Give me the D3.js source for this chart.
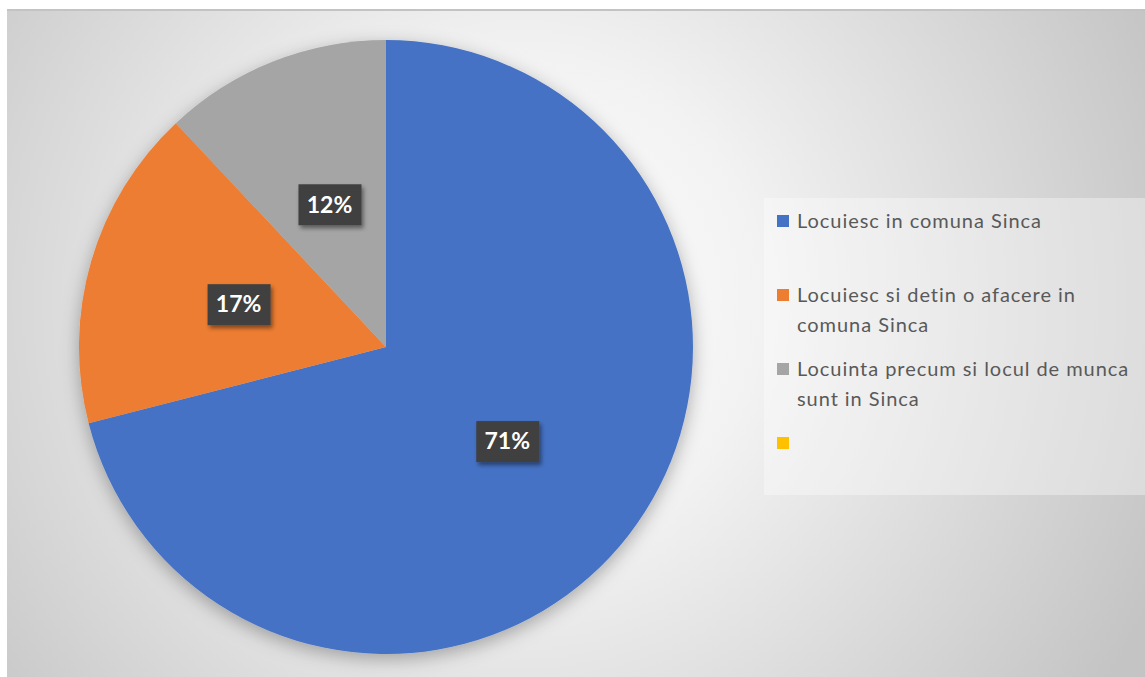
<!DOCTYPE html>
<html>
<head>
<meta charset="utf-8">
<script src="https://cdn.jsdelivr.net/npm/d3@7"></script>
<style>
  body { margin: 0; background: #fff; }
</style>
</head>
<body>
<div id="chart"></div>
<script>
// data
let categories = [
    'Locuiesc in comuna Sinca',
    'Locuiesc si detin o afacere in comuna Sinca',
    'Locuinta precum si locul de munca sunt in Sinca',
    ''
];
let values = [71, 17, 12, 0];
let colors = ['#4472C4', '#ED7D31', '#A5A5A5', '#FFC000'];
// how the legend text wraps
let legendLines = [
    ['Locuiesc in comuna Sinca'],
    ['Locuiesc si detin o afacere in', 'comuna Sinca'],
    ['Locuinta precum si locul de munca', 'sunt in Sinca'],
    ['']
];

let width = 1145;
let height = 677;

let svg = d3.select('#chart')
    .append('svg')
    .attr('width', width)
    .attr('height', height);

let defs = svg.append('defs');

// background radial gradient, light middle and grey edges
let grad = defs.append('radialGradient')
    .attr('id', 'bg')
    .attr('gradientUnits', 'userSpaceOnUse')
    .attr('cx', 520).attr('cy', 300).attr('r', 700);
grad.append('stop').attr('offset', '0%').attr('stop-color', '#ffffff');
grad.append('stop').attr('offset', '35%').attr('stop-color', '#f2f2f2');
grad.append('stop').attr('offset', '100%').attr('stop-color', '#c4c4c4');

let shadow = defs.append('filter')
    .attr('id', 'pieShadow')
    .attr('x', '-20%').attr('y', '-20%')
    .attr('width', '140%').attr('height', '140%');
shadow.append('feDropShadow')
    .attr('dx', 0).attr('dy', 5)
    .attr('stdDeviation', 9)
    .attr('flood-color', '#000')
    .attr('flood-opacity', 0.3);

let labShadow = defs.append('filter')
    .attr('id', 'labShadow')
    .attr('x', '-30%').attr('y', '-30%')
    .attr('width', '160%').attr('height', '160%');
labShadow.append('feDropShadow')
    .attr('dx', 2).attr('dy', 3)
    .attr('stdDeviation', 2)
    .attr('flood-color', '#000')
    .attr('flood-opacity', 0.45);

// chart area
svg.append('rect')
    .attr('x', 7).attr('y', 10)
    .attr('width', width - 7).attr('height', height - 10)
    .style('fill', 'url(#bg)');
svg.append('line')
    .attr('x1', 7).attr('x2', width)
    .attr('y1', 10).attr('y2', 10)
    .style('stroke', '#c3c3c3')
    .style('stroke-width', 2);

// pie
let cx = 386, cy = 347, radius = 307;

let pie = d3.pie().sort(null).value(d => d.value);
let arc = d3.arc().innerRadius(0).outerRadius(radius);

let data = categories.map((c, i) => ({ name: c, value: values[i], color: colors[i] }));
let arcs = pie(data);

let g = svg.append('g')
    .attr('transform', `translate(${cx}, ${cy})`);

g.append('g')
    .style('filter', 'url(#pieShadow)')
    .selectAll('path')
    .data(arcs.filter(d => d.data.value > 0))
    .enter()
    .append('path')
    .attr('d', arc)
    .style('fill', d => d.data.color);

// data labels
let lab = g.selectAll('.lab')
    .data(arcs.filter(d => d.data.value > 0))
    .enter()
    .append('g')
    .attr('class', 'lab')
    .attr('transform', d => `translate(${arc.centroid(d)})`);

lab.append('rect')
    .attr('x', -31).attr('y', -20)
    .attr('width', 63).attr('height', 41)
    .style('fill', '#404040')
    .style('filter', 'url(#labShadow)');

lab.append('text')
    .text(d => d.data.value + '%')
    .attr('text-anchor', 'middle')
    .attr('dy', '0.36em')
    .style('fill', '#fff')
    .style('font-family', 'Lato, sans-serif')
    .style('font-weight', 'bold')
    .style('font-size', '23px');

// legend
svg.append('rect')
    .attr('x', 764).attr('y', 198)
    .attr('width', width - 764).attr('height', 297)
    .style('fill', '#fff')
    .style('opacity', 0.35);

let itemY = [221, 295, 369, 443];

let leg = svg.selectAll('.leg')
    .data(data)
    .enter()
    .append('g')
    .attr('class', 'leg')
    .attr('transform', (d, i) => `translate(777, ${itemY[i]})`);

leg.append('rect')
    .attr('x', 0).attr('y', -6)
    .attr('width', 12).attr('height', 12)
    .style('fill', d => d.color);

leg.each(function (d, i) {
    let t = d3.select(this).append('text')
        .attr('x', 20)
        .attr('y', 7)
        .style('fill', '#595959')
        .style('font-family', 'Lato, sans-serif')
        .style('font-size', '20px')
        .style('letter-spacing', '0.95px');
    legendLines[i].forEach((line, j) => {
        t.append('tspan')
            .attr('x', 20)
            .attr('dy', j === 0 ? 0 : 30)
            .text(line);
    });
});
</script>
</body>
</html>
